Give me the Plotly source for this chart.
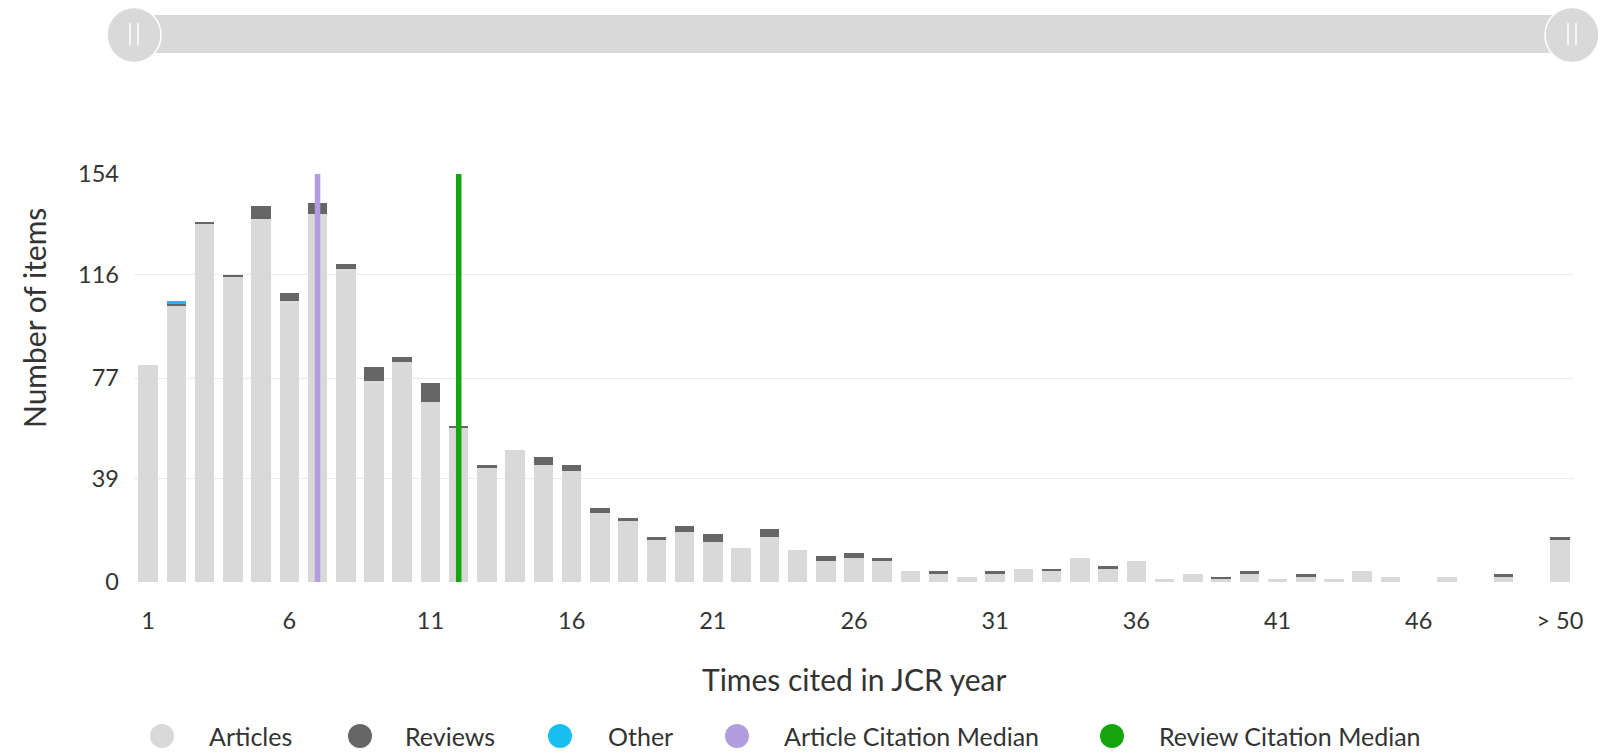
import plotly.graph_objects as go

# ---------------- data ----------------
categories = ["1", "2", "3", "4", "5", "6", "7", "8", "9", "10",
              "11", "12", "13", "14", "15", "16", "17", "18", "19", "20",
              "21", "22", "23", "24", "25", "26", "27", "28", "29", "30",
              "31", "32", "33", "34", "35", "36", "37", "38", "39", "40",
              "41", "42", "43", "44", "45", "46", "47", "48", "49", "50", ">50"]

articles = [82, 104, 135, 115, 137, 106, 139, 118, 76, 83,
            68, 58, 43, 50, 44, 42, 26, 23, 16, 19,
            15, 13, 17, 12, 8, 9, 8, 4, 3, 2,
            3, 5, 4, 9, 5, 8, 1, 3, 1, 3,
            1, 2, 1, 4, 2, 0, 2, 0, 2, 0, 16]

reviews = [0, 1, 1, 1, 5, 3, 4, 2, 5, 2,
           7, 1, 1, 0, 3, 2, 2, 1, 1, 2,
           3, 0, 3, 0, 2, 2, 1, 0, 1, 0,
           1, 0, 1, 0, 1, 0, 0, 0, 1, 1,
           0, 1, 0, 0, 0, 0, 0, 0, 1, 0, 1]

other = [0, 1, 0, 0, 0, 0, 0, 0, 0, 0,
         0, 0, 0, 0, 0, 0, 0, 0, 0, 0,
         0, 0, 0, 0, 0, 0, 0, 0, 0, 0,
         0, 0, 0, 0, 0, 0, 0, 0, 0, 0,
         0, 0, 0, 0, 0, 0, 0, 0, 0, 0, 0]

article_median = "7"
review_median = "12"

y_ticks = [0, 39, 77, 116, 154]
x_tick_vals = ["1", "6", "11", "16", "21", "26", "31", "36", "41", "46", ">50"]
x_tick_text = ["1", "6", "11", "16", "21", "26", "31", "36", "41", "46", "> 50"]

legend_names = ["Articles", "Reviews", "Other", "Article Citation Median", "Review Citation Median"]

# ---------------- style ----------------
C_ART = "#d9d9d9"
C_REV = "#666666"
C_OTH = "#16bfee"
C_AMED = "#b39ddf"
C_RMED = "#17a50f"
TXT = "#333333"
FONT = "Lato"

W, H = 1604, 753
L, R, T, B = 134, 1574, 174, 582   # plot area in pixels


def xp(px):
    return (px - L) / (R - L)


def yp(py):
    return (B - py) / (B - T)


fig = go.Figure()
fig.add_trace(go.Bar(x=categories, y=articles, name="Articles", marker_color=C_ART,
                     marker_line_width=0, showlegend=False))
fig.add_trace(go.Bar(x=categories, y=reviews, name="Reviews", marker_color=C_REV,
                     marker_line_width=0, showlegend=False))
fig.add_trace(go.Bar(x=categories, y=other, name="Other", marker_color=C_OTH,
                     marker_line_width=0, showlegend=False))
fig.add_trace(go.Scatter(x=[article_median, article_median], y=[0, y_ticks[-1]], mode="lines",
                         line=dict(color=C_AMED, width=5.5), name="Article Citation Median",
                         showlegend=False, cliponaxis=False))
fig.add_trace(go.Scatter(x=[review_median, review_median], y=[0, y_ticks[-1]], mode="lines",
                         line=dict(color=C_RMED, width=5.5), name="Review Citation Median",
                         showlegend=False, cliponaxis=False))

shapes = []
# range slider look-alike at top
shapes.append(dict(type="rect", xref="paper", yref="paper",
                   x0=xp(134), x1=xp(1572), y0=yp(53), y1=yp(15),
                   fillcolor="#d9d9d9", line=dict(width=0), layer="above"))
for cx in (134, 1572):
    shapes.append(dict(type="circle", xref="paper", yref="paper",
                       x0=xp(cx - 27), x1=xp(cx + 27), y0=yp(35 + 27.5), y1=yp(35 - 27.5),
                       fillcolor="#d9d9d9", line=dict(color="#ffffff", width=1.5), layer="above"))
    for dx in (-4, 4):
        shapes.append(dict(type="line", xref="paper", yref="paper",
                           x0=xp(cx + dx), x1=xp(cx + dx), y0=yp(45), y1=yp(23),
                           line=dict(color="#ffffff", width=1.5), layer="above"))

# custom legend
legend_colors = [C_ART, C_REV, C_OTH, C_AMED, C_RMED]
legend_circle_x = [162, 360, 560, 737, 1112]
legend_text_x = [207, 403, 606, 782, 1157]
legend_y = 736
annotations = []
for name, col, cx, tx in zip(legend_names, legend_colors, legend_circle_x, legend_text_x):
    shapes.append(dict(type="circle", xref="paper", yref="paper",
                       x0=xp(cx - 12), x1=xp(cx + 12), y0=yp(legend_y + 12), y1=yp(legend_y - 12),
                       fillcolor=col, line=dict(width=0)))
    annotations.append(dict(text=name, xref="paper", yref="paper", x=xp(tx), y=yp(legend_y),
                            xanchor="left", yanchor="middle", showarrow=False,
                            font=dict(family=FONT, size=25, color=TXT)))

# axis titles
annotations.append(dict(text="Times cited in JCR year", xref="paper", yref="paper",
                        x=xp(854), y=yp(679), xanchor="center", yanchor="middle",
                        showarrow=False, font=dict(family=FONT, size=30, color=TXT)))
annotations.append(dict(text="Number of items", xref="paper", yref="paper",
                        x=xp(34), y=yp(318), xanchor="center", yanchor="middle", textangle=-90,
                        showarrow=False, font=dict(family=FONT, size=30, color=TXT)))

fig.update_layout(
    width=W, height=H,
    margin=dict(l=L, r=W - R, t=T, b=H - B, pad=0),
    barmode="stack", bargap=0.31,
    plot_bgcolor="white", paper_bgcolor="white",
    font=dict(family=FONT, size=23.5, color=TXT),
    shapes=shapes, annotations=annotations,
    showlegend=False,
    xaxis=dict(type="category", categoryorder="array", categoryarray=categories,
               range=[-0.5, len(categories) - 0.5],
               tickmode="array", tickvals=x_tick_vals, ticktext=x_tick_text,
               ticks="", showgrid=False, zeroline=False, showline=False,
               tickfont=dict(family=FONT, size=23.5, color=TXT), ticklabelstandoff=22),
    yaxis=dict(range=[0, y_ticks[-1]], tickmode="array", tickvals=y_ticks,
               ticks="", showgrid=True, gridcolor="#ebebeb", gridwidth=1,
               zeroline=False, showline=False,
               tickfont=dict(family=FONT, size=23.5, color=TXT), ticklabelstandoff=14),
)

fig.write_html("out.html", config={"displayModeBar": False},
               post_script="document.body.style.margin='0px';")
